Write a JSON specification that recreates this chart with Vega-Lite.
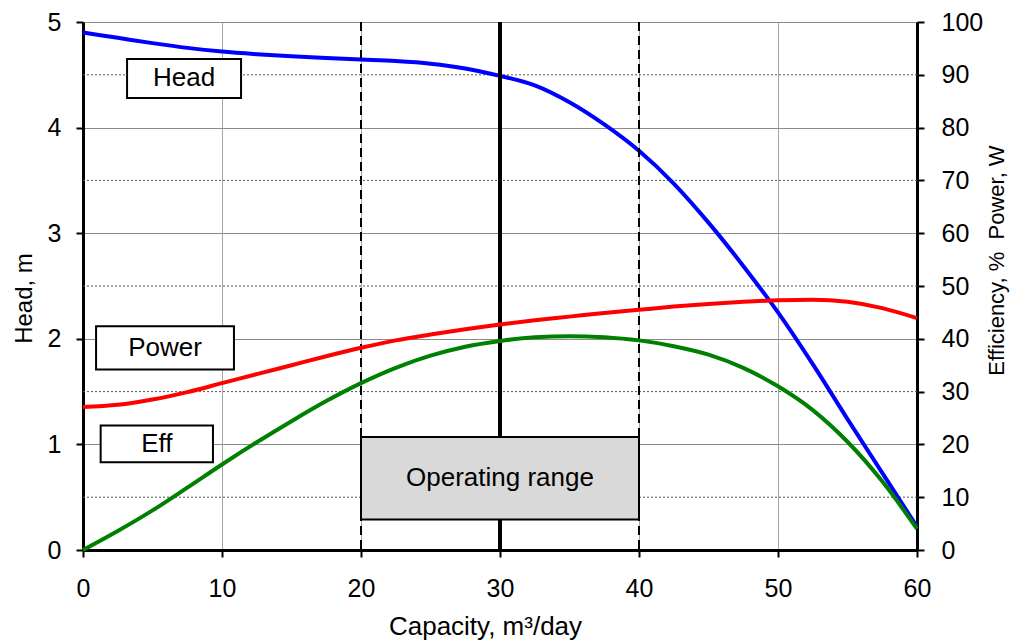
{
  "$schema": "https://vega.github.io/schema/vega-lite/v6.json",
  "width": 834,
  "height": 528,
  "autosize": "none",
  "padding": {"left": 83, "top": 22, "right": 104, "bottom": 91},
  "background": "white",
  "config": {
    "view": {"stroke": null},
    "font": "Liberation Sans"
  },
  "datasets": {
    "curves": [
      {"q": 0, "head": 4.90, "power": 27.1, "eff": 0},
      {"q": 2.5, "head": 4.85, "power": 27.5, "eff": 3.6},
      {"q": 5, "head": 4.80, "power": 28.5, "eff": 7.5},
      {"q": 7.5, "head": 4.755, "power": 29.9, "eff": 11.8},
      {"q": 10, "head": 4.72, "power": 31.6, "eff": 16.2},
      {"q": 12.5, "head": 4.695, "power": 33.3, "eff": 20.4},
      {"q": 15, "head": 4.675, "power": 35.0, "eff": 24.4},
      {"q": 17.5, "head": 4.66, "power": 36.7, "eff": 28.2},
      {"q": 20, "head": 4.645, "power": 38.3, "eff": 31.6},
      {"q": 22.5, "head": 4.63, "power": 39.7, "eff": 34.5},
      {"q": 25, "head": 4.605, "power": 40.8, "eff": 36.8},
      {"q": 27.5, "head": 4.56, "power": 41.8, "eff": 38.5},
      {"q": 30, "head": 4.49, "power": 42.7, "eff": 39.6},
      {"q": 32.5, "head": 4.40, "power": 43.5, "eff": 40.3},
      {"q": 35, "head": 4.24, "power": 44.2, "eff": 40.5},
      {"q": 37.5, "head": 4.03, "power": 44.9, "eff": 40.3},
      {"q": 40, "head": 3.78, "power": 45.5, "eff": 39.7},
      {"q": 42.5, "head": 3.47, "power": 46.1, "eff": 38.6},
      {"q": 45, "head": 3.10, "power": 46.6, "eff": 37.0},
      {"q": 47.5, "head": 2.69, "power": 47.0, "eff": 34.5},
      {"q": 50, "head": 2.25, "power": 47.3, "eff": 31.0},
      {"q": 52.5, "head": 1.76, "power": 47.4, "eff": 26.5},
      {"q": 55, "head": 1.24, "power": 47.0, "eff": 20.5},
      {"q": 57.5, "head": 0.73, "power": 45.8, "eff": 13.0},
      {"q": 60, "head": 0.22, "power": 43.9, "eff": 4.0}
    ],
    "minor": [{"v": 0.5}, {"v": 1.5}, {"v": 2.5}, {"v": 3.5}, {"v": 4.5}],
    "dashed": [{"q": 20}, {"q": 40}],
    "center": [{"q": 30}],
    "labels": [
      {"x1": 3.17, "x2": 11.37, "y1": 4.28, "y2": 4.65, "cx": 7.27, "cy": 4.465, "label": "Head"},
      {"x1": 0.94, "x2": 10.86, "y1": 1.71, "y2": 2.12, "cx": 5.9, "cy": 1.915, "label": "Power"},
      {"x1": 1.27, "x2": 9.35, "y1": 0.83, "y2": 1.18, "cx": 5.31, "cy": 1.005, "label": "Eff"}
    ],
    "range": [
      {"x1": 20, "x2": 40, "y1": 0.29, "y2": 1.07, "cx": 30, "cy": 0.68, "label": "Operating range"}
    ]
  },
  "layer": [
    {
      "data": {"name": "minor"},
      "mark": {"type": "rule", "color": "#555555", "strokeWidth": 1, "strokeDash": [2, 2]},
      "encoding": {
        "y": {"field": "v", "type": "quantitative", "scale": {"domain": [0, 5], "nice": false}, "axis": null}
      }
    },
    {
      "data": {"name": "curves"},
      "mark": {"type": "line", "color": "#0000ff", "strokeWidth": 4, "interpolate": "monotone"},
      "encoding": {
        "x": {
          "field": "q", "type": "quantitative",
          "scale": {"domain": [0, 60], "nice": false},
          "axis": {
            "title": "Capacity, m³/day",
            "values": [0, 10, 20, 30, 40, 50, 60],
            "grid": true, "gridColor": "#a6a6a6", "gridWidth": 1,
            "domainColor": "black", "domainWidth": 3,
            "tickColor": "black", "tickWidth": 2, "tickSize": 7,
            "labelFont": "Liberation Sans", "labelFontSize": 25, "labelColor": "black",
            "titleFont": "Liberation Sans", "titleFontSize": 26, "titleFontWeight": "normal", "titleColor": "black",
            "labelPadding": 19, "titlePadding": 12, "titleX": 402, "labelFlush": false
          }
        },
        "y": {
          "field": "head", "type": "quantitative",
          "scale": {"domain": [0, 5], "nice": false},
          "axis": {
            "title": "Head, m",
            "orient": "left",
            "values": [0, 1, 2, 3, 4, 5],
            "grid": true, "gridColor": "#8c8c8c", "gridWidth": 1,
            "domainColor": "black", "domainWidth": 3,
            "tickColor": "black", "tickWidth": 2, "tickSize": 7,
            "labelFont": "Liberation Sans", "labelFontSize": 25, "labelColor": "black",
            "titleFont": "Liberation Sans", "titleFontSize": 24, "titleFontWeight": "normal", "titleColor": "black",
            "labelPadding": 15, "titlePadding": 11, "titleY": 276
          }
        }
      }
    },
    {
      "data": {"name": "dashed"},
      "mark": {"type": "rule", "color": "black", "strokeWidth": 2, "strokeDash": [9, 5]},
      "encoding": {
        "x": {"field": "q", "type": "quantitative"}
      }
    },
    {
      "data": {"name": "center"},
      "mark": {"type": "rule", "color": "black", "strokeWidth": 4},
      "encoding": {
        "x": {"field": "q", "type": "quantitative"}
      }
    },
    {
      "data": {"name": "range"},
      "mark": {"type": "rect", "fill": "#d9d9d9", "stroke": "black", "strokeWidth": 2},
      "encoding": {
        "x": {"field": "x1", "type": "quantitative"},
        "x2": {"field": "x2"},
        "y": {"field": "y1", "type": "quantitative", "scale": {"domain": [0, 5], "nice": false}, "axis": null},
        "y2": {"field": "y2"}
      }
    },
    {
      "data": {"name": "labels"},
      "mark": {"type": "rect", "fill": "white", "stroke": "black", "strokeWidth": 2},
      "encoding": {
        "x": {"field": "x1", "type": "quantitative"},
        "x2": {"field": "x2"},
        "y": {"field": "y1", "type": "quantitative", "scale": {"domain": [0, 5], "nice": false}, "axis": null},
        "y2": {"field": "y2"}
      }
    },
    {
      "data": {"name": "labels"},
      "mark": {"type": "text", "fontSize": 26, "color": "black", "align": "center", "baseline": "middle", "font": "Liberation Sans"},
      "encoding": {
        "x": {"field": "cx", "type": "quantitative"},
        "y": {"field": "cy", "type": "quantitative", "scale": {"domain": [0, 5], "nice": false}, "axis": null},
        "text": {"field": "label"}
      }
    },
    {
      "data": {"name": "range"},
      "mark": {"type": "text", "fontSize": 26, "color": "black", "align": "center", "baseline": "middle", "font": "Liberation Sans"},
      "encoding": {
        "x": {"field": "cx", "type": "quantitative"},
        "y": {"field": "cy", "type": "quantitative", "scale": {"domain": [0, 5], "nice": false}, "axis": null},
        "text": {"field": "label"}
      }
    },
    {
      "data": {"name": "curves"},
      "mark": {"type": "line", "color": "#ff0000", "strokeWidth": 4, "interpolate": "monotone"},
      "encoding": {
        "x": {"field": "q", "type": "quantitative"},
        "y": {
          "field": "power", "type": "quantitative",
          "scale": {"domain": [0, 100], "nice": false},
          "axis": {
            "title": "Efficiency, %\u00a0 Power, W",
            "orient": "right",
            "values": [0, 10, 20, 30, 40, 50, 60, 70, 80, 90, 100],
            "grid": false,
            "domainColor": "black", "domainWidth": 3,
            "tickColor": "black", "tickWidth": 2, "tickSize": 7,
            "labelFont": "Liberation Sans", "labelFontSize": 25, "labelColor": "black",
            "titleFont": "Liberation Sans", "titleFontSize": 22, "titleFontWeight": "normal", "titleColor": "black",
            "titleAngle": 270, "titleBaseline": "top",
            "labelPadding": 17, "titlePadding": 4, "titleY": 238
          }
        }
      }
    },
    {
      "data": {"name": "curves"},
      "mark": {"type": "line", "color": "#008000", "strokeWidth": 4, "interpolate": "monotone"},
      "encoding": {
        "x": {"field": "q", "type": "quantitative"},
        "y": {"field": "eff", "type": "quantitative", "scale": {"domain": [0, 100], "nice": false}, "axis": null}
      }
    }
  ],
  "resolve": {"scale": {"y": "independent"}}
}
